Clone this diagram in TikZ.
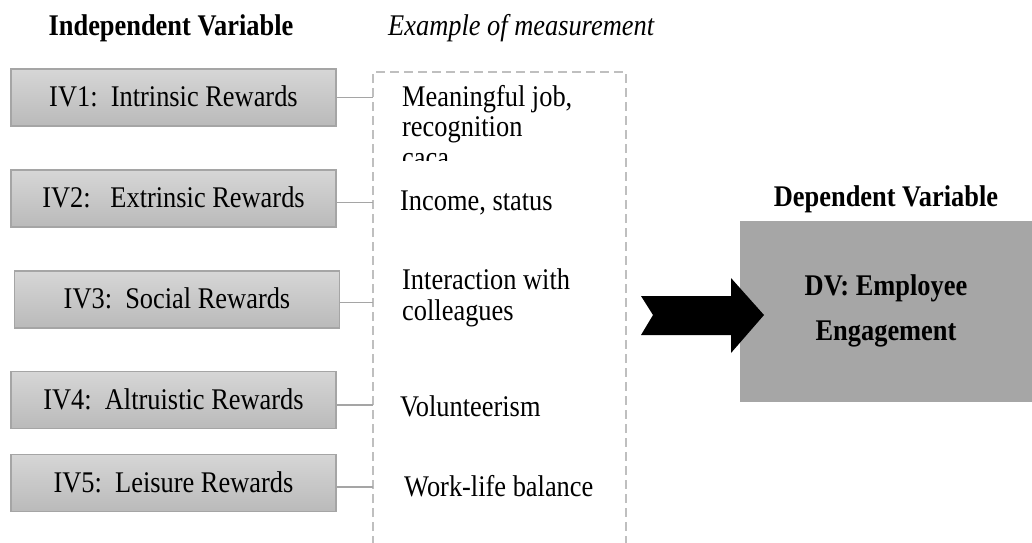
\documentclass[tikz,border=0pt]{standalone}
\usepackage{fontspec}
\setmainfont{Liberation Serif}[FakeStretch=0.88]
\definecolor{boxtop}{HTML}{D6D6D6}
\definecolor{boxbot}{HTML}{BABABA}
\definecolor{boxline}{HTML}{A5A5A5}
\definecolor{dvfill}{HTML}{A6A6A6}
\definecolor{dashgray}{HTML}{BFBFBF}
\begin{document}
\begin{tikzpicture}[x=1pt, y=-1pt, font=\fontsize{30}{30}\selectfont,
    ivbox/.style={draw=boxline, line width=1.5pt, top color=boxtop, bottom color=boxbot,
        minimum width=325pt, minimum height=57pt, text height=20pt, text depth=2pt, inner sep=0pt},
    meas/.style={anchor=base west, inner sep=0pt},
    head/.style={anchor=base, inner sep=0pt, font=\fontsize{30}{30}\selectfont\bfseries},
    dvbox/.style={fill=dvfill, minimum width=292pt, minimum height=181pt, align=center,
        font=\fontsize{30}{30}\selectfont\bfseries},
    link/.style={draw=boxline, line width=1.5pt},
    dashbox/.style={draw=dashgray, line width=2pt, dash pattern=on 9pt off 5pt}]
    \useasboundingbox (0,0) rectangle (1032,542);
    \node[head] (ivhead) at (171,35) {Independent Variable};
    \node[meas, font=\fontsize{30}{30}\selectfont\itshape] (exhead) at (388,35) {Example of measurement};
    \node[head] (dvhead) at (886,206) {Dependent Variable};
    \draw[dashbox] (373,545) -- (373,72) coordinate (ml) -- (626,72) -- (626,545);
    \node[ivbox] (iv1) at (173.5,97.5) {IV1:\ \ Intrinsic Rewards};
    \node[ivbox] (iv2) at (173.5,198.5) {IV2:\ \ \ Extrinsic Rewards};
    \node[ivbox] (iv3) at (177,299.5) {IV3:\ \ Social Rewards};
    \node[ivbox] (iv4) at (173.5,400) {IV4:\ \ Altruistic Rewards};
    \node[ivbox] (iv5) at (173.5,483) {IV5:\ \ Leisure Rewards};
    \draw[link] (iv1.east) -- (iv1.east -| ml);
    \draw[link] ([yshift=-4pt]iv2.east) -- ([yshift=-4pt]iv2.east -| ml);
    \draw[link] ([yshift=-3pt]iv3.east) -- ([yshift=-3pt]iv3.east -| ml);
    \draw[link] ([yshift=-5pt]iv4.east) -- ([yshift=-5pt]iv4.east -| ml);
    \draw[link] ([yshift=-4pt]iv5.east) -- ([yshift=-4pt]iv5.east -| ml);
    \node[meas] (m1a) at (402,106) {Meaningful job,};
    \node[meas] (m1b) at (402,136) {recognition};
    \begin{scope}
        \clip (380,140) rectangle (620,160);
        \node[meas] (m1c) at (402,167) {caca};
    \end{scope}
    \node[meas] (m2) at (400,210) {Income, status};
    \node[meas] (m3a) at (402,289) {Interaction with};
    \node[meas] (m3b) at (402,320) {colleagues};
    \node[meas] (m4) at (400,416) {Volunteerism};
    \node[meas] (m5) at (404,496) {Work-life balance};
    \node[dvbox] (dv) at (886,311) {DV: Employee\\[15pt]Engagement};
    \fill (641,296) -- (731,296) -- (731,278) -- (764,315) -- (731,353) -- (731,335)
        -- (641,335) -- (653,315) -- cycle;
\end{tikzpicture}
\end{document}
